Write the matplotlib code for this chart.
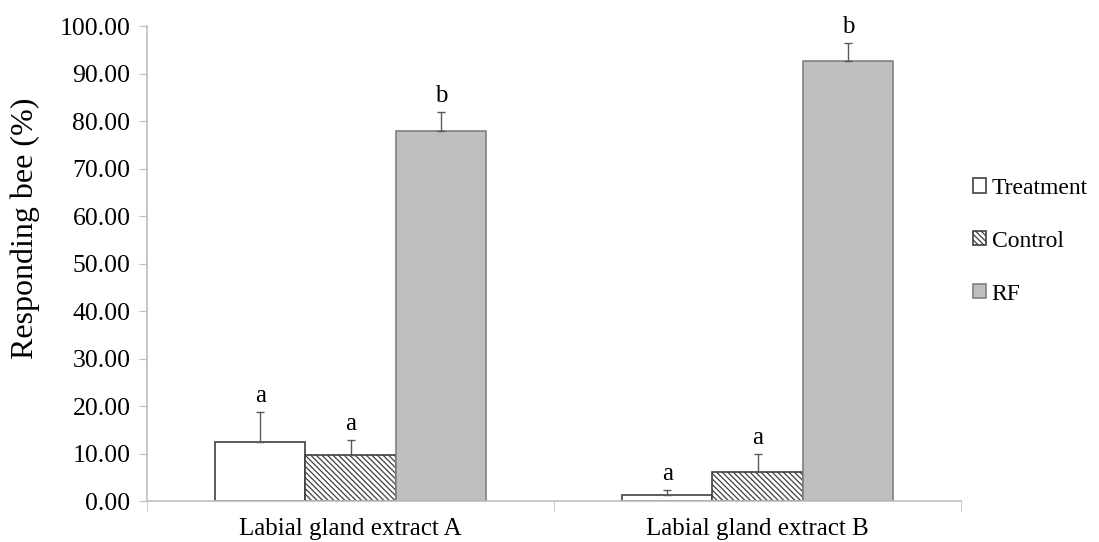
import numpy as np
import matplotlib
matplotlib.use("Agg")
import matplotlib.pyplot as plt

plt.rcParams['font.family'] = ['Liberation Serif', 'DejaVu Serif']
plt.rcParams['hatch.linewidth'] = 0.9
plt.rcParams['hatch.color'] = '#404040'

groups = ["Labial gland extract A", "Labial gland extract B"]
series = ["Treatment", "Control", "RF"]
means = {"Treatment": [12.4, 1.2],
         "Control": [9.7, 6.1],
         "RF": [77.9, 92.6]}
errs = {"Treatment": [6.3, 1.1],
        "Control": [3.1, 3.8],
        "RF": [4.0, 3.8]}
letters = {"Treatment": ["a", "a"],
           "Control": ["a", "a"],
           "RF": ["b", "b"]}

fills = {"Treatment": "white", "Control": "white", "RF": "#BFBFBF"}
edges = {"Treatment": "#404040", "Control": "#404040", "RF": "#808080"}
hatches = {"Treatment": None, "Control": "\\\\\\\\\\\\", "RF": None}

fig = plt.figure(figsize=(10.99, 5.42), dpi=100)
ax = fig.add_axes([0.1338, 0.0756, 0.7407, 0.8764])

x = np.arange(len(groups))
w = 0.222
for i, s in enumerate(series):
    pos = x + (i - 1) * w
    ax.bar(pos, means[s], w, color=fills[s], edgecolor=edges[s],
           hatch=hatches[s], linewidth=1.2, label=s, zorder=2)
    ax.errorbar(pos, means[s], yerr=[np.zeros(2), errs[s]], fmt='none',
                ecolor='#595959', elinewidth=1.0, capsize=3, capthick=1.0, zorder=3)
    for p, m, e, t in zip(pos, means[s], errs[s], letters[s]):
        ax.text(p, m + e + 1.0, t, ha='center', va='bottom', fontsize=18)

ax.set_xlim(-0.5, 1.5)
ax.set_ylim(0, 100)
ax.set_yticks(np.arange(0, 101, 10))
ax.set_yticklabels(["%.2f" % v for v in np.arange(0, 101, 10)], fontsize=18.5)
ax.set_xticks(x)
ax.set_xticklabels(groups, fontsize=18)
ax.tick_params(axis='x', length=0, pad=12)
ax.set_xticks([-0.5, 0.5, 1.5], minor=True)
ax.tick_params(axis='x', which='minor', length=7, color='#BFBFBF')
ax.tick_params(axis='y', length=6, color='#BFBFBF', pad=6)
ax.set_ylabel("Responding bee (%)", fontsize=23)
ax.yaxis.set_label_coords(-0.132, 0.575)

for sp in ['top', 'right']:
    ax.spines[sp].set_visible(False)
for sp in ['left', 'bottom']:
    ax.spines[sp].set_color('#BFBFBF')
    ax.spines[sp].set_linewidth(1.2)

leg = ax.legend(loc='center left', bbox_to_anchor=(1.0, 0.547), frameon=False,
                fontsize=17, handlelength=0.55, handleheight=0.55,
                handletextpad=0.25, labelspacing=1.35, borderpad=0)

fig.savefig("out.png", dpi=100)
